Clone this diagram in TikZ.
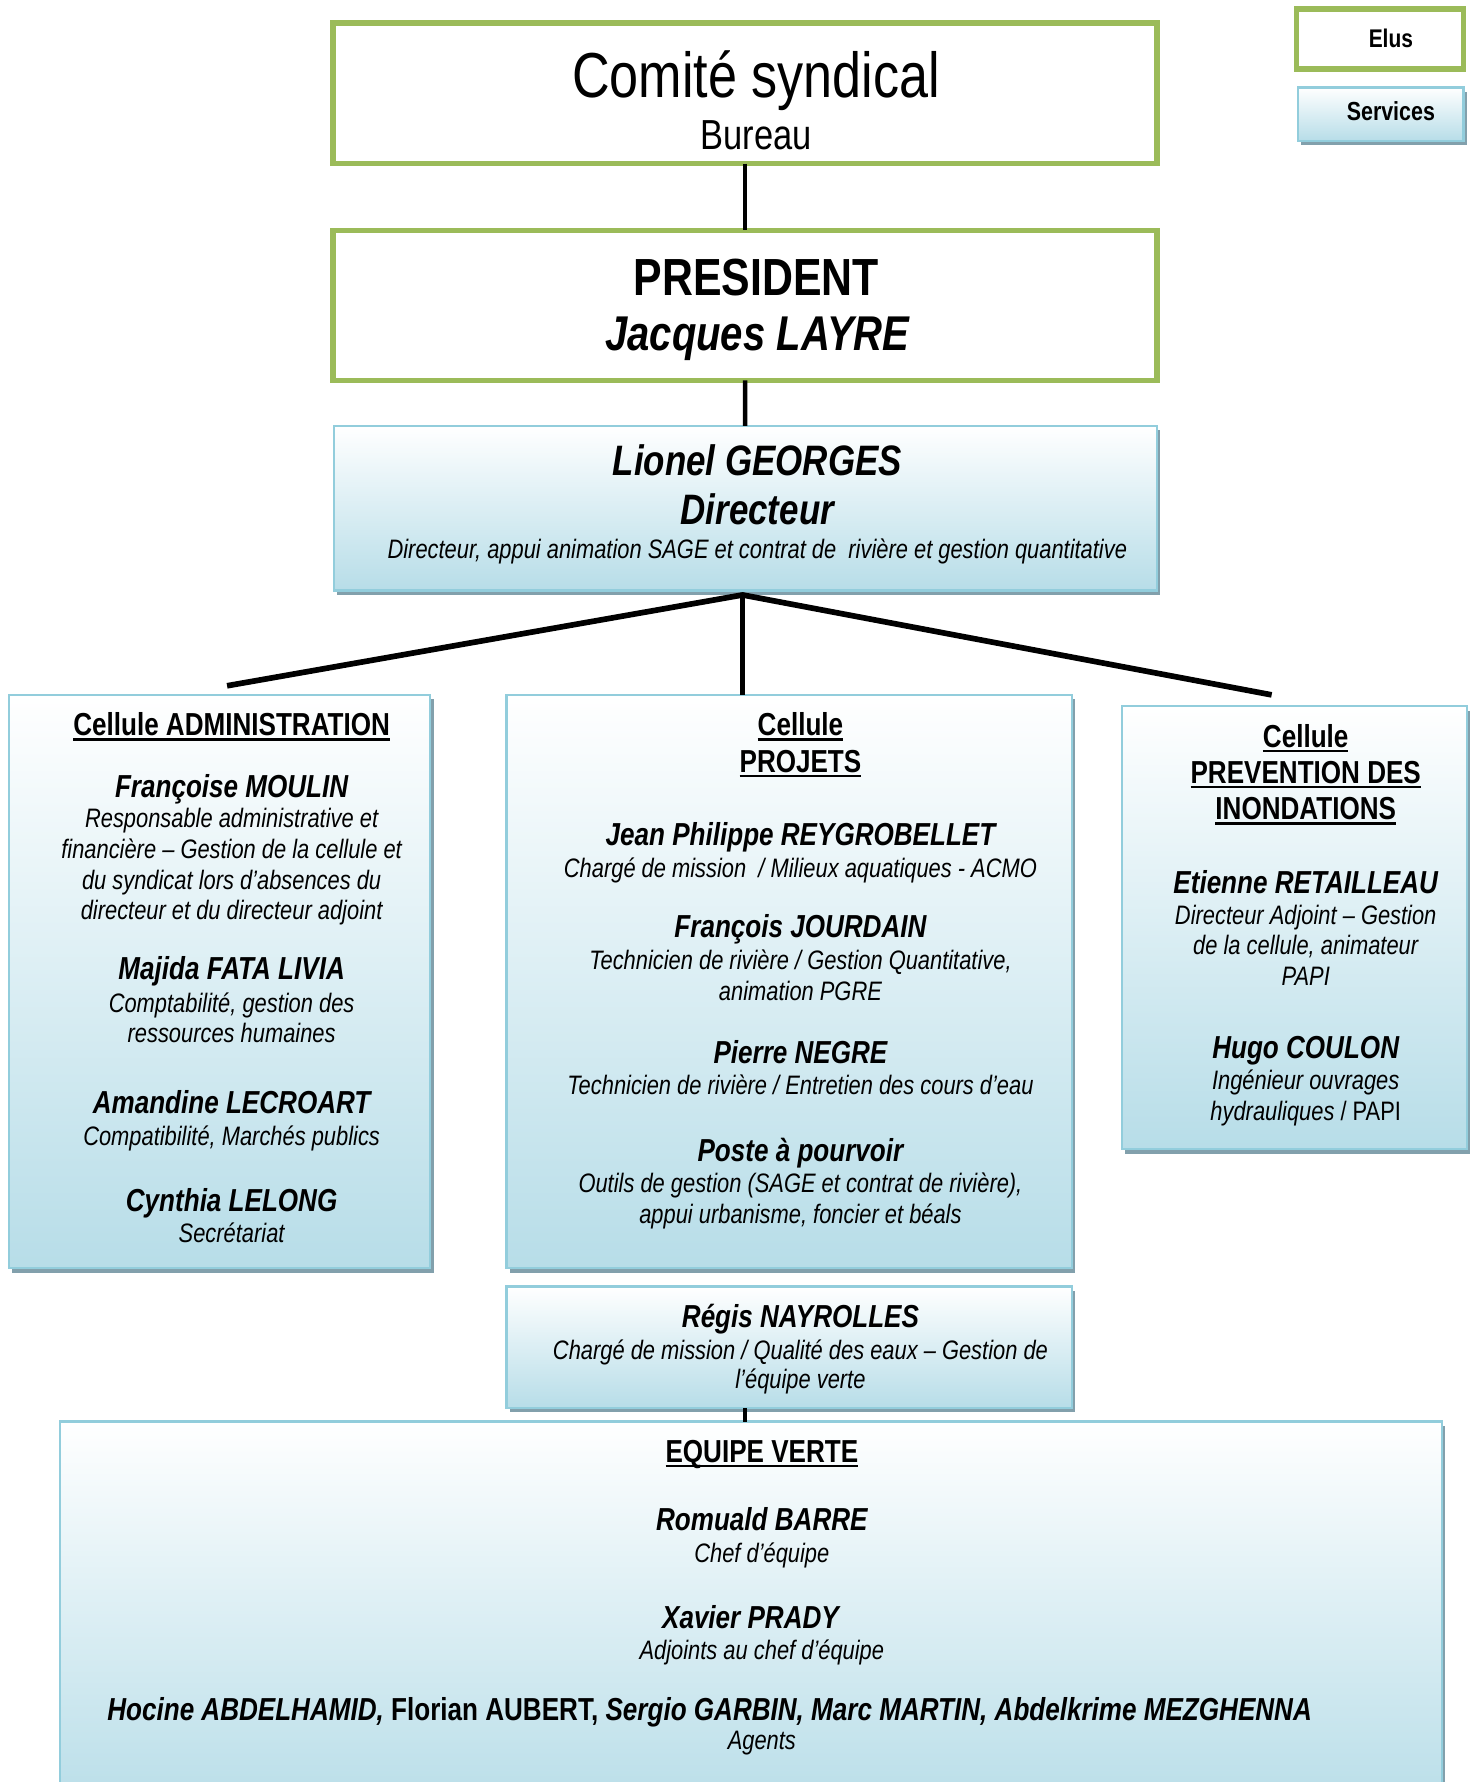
\documentclass[tikz,border=0pt]{standalone}
\usepackage{fontspec}
\setmainfont{Liberation Sans}[FakeStretch=0.82]
\usetikzlibrary{shadows}
\definecolor{elugreen}{RGB}{155,187,89}
\definecolor{svcborder}{RGB}{146,205,220}
\definecolor{svcblue}{RGB}{183,221,232}
\definecolor{shadowc}{RGB}{130,160,172}
\newcommand\fsz[1]{\fontsize{#1}{#1}\selectfont}
\newsavebox\myulbox
\newcommand\myul[1]{\sbox\myulbox{#1}\rlap{\rule[-2.2pt]{\wd\myulbox}{1pt}}\usebox\myulbox}
\newcommand\bx[6]{\node[#6, inner sep=0pt, outer sep=0pt, anchor=north west, minimum width={(#4-#2)*0.5pt}, minimum height={(#5-#3)*0.5pt}] (#1) at (#2,#3) {};}
\tikzset{
  tbase/.style={inner sep=0pt, anchor=base},
  body/.style={tbase, font=\fsz{11.75pt}\itshape},
  nm/.style={tbase, font=\fsz{14pt}\bfseries\itshape},
  hd/.style={tbase, font=\fsz{14pt}\bfseries},
  elu/.style={draw=elugreen, line width=2.5pt, fill=white},
  svc/.style={draw=svcborder, line width=1pt, top color=white, bottom color=svcblue,
    drop shadow={shadow xshift=1.5pt, shadow yshift=-2pt, fill=shadowc, opacity=1}},
  link/.style={line width=2pt, black},
  link2/.style={line width=2.5pt, black},
}
\begin{document}
\begin{tikzpicture}[x=0.5pt,y=-0.5pt]
\clip (0,0) rectangle (1300,1569.5);
\fill[white] (0,0) rectangle (1300,1569.5);

% legend
\bx{elus}{1142}{8}{1289}{61}{elu}
\node[tbase, font=\fsz{11.25pt}\bfseries] (elust) at (1225,42) {Elus};
\bx{svcs}{1143}{77}{1289}{124}{svc}
\node[tbase, font=\fsz{11.5pt}\bfseries] (svct) at (1225,106) {Services};

% comite
\bx{comite}{293}{20}{1019}{144}{elu}
\node[tbase, font=\fsz{28pt}] (ct1) at (666,86) {Comité syndical};
\node[tbase, font=\fsz{18.5pt}] (ct2) at (666,132) {Bureau};

% president
\bx{pres}{293}{203}{1019}{335}{elu}
\node[tbase, font=\fsz{23pt}\bfseries] (pt1) at (666,260) {PRESIDENT};
\node[tbase, font=\fsz{21.5pt}\bfseries\itshape] (pt2) at (667,309) {Jacques LAYRE};

% directeur
\bx{dir}{294}{375}{1019}{520}{svc}
\node[tbase, font=\fsz{18.75pt}\bfseries\itshape] (dt1) at (667,419) {Lionel GEORGES};
\node[tbase, font=\fsz{18.75pt}\bfseries\itshape] (dt2) at (667,462) {Directeur};
\node[tbase, font=\fsz{11.75pt}\itshape] (dt3) at (667,492) {Directeur, appui animation SAGE et contrat de \ rivière et gestion quantitative};

% links top
\draw[link] (comite) -- (pres);
\draw[link] (pres) -- (dir);

% admin
\bx{adm}{8}{612}{379}{1117}{svc}
\node[hd] (a0) at (204,648) {\myul{Cellule ADMINISTRATION}};
\node[nm] (a1) at (204,702) {Françoise MOULIN};
\node[body] (a2) at (204,729) {Responsable administrative et};
\node[body] (a3) at (204,756) {financière – Gestion de la cellule et};
\node[body] (a4) at (204,783) {du syndicat lors d’absences du};
\node[body] (a5) at (204,810) {directeur et du directeur adjoint};
\node[nm] (a6) at (204,863) {Majida FATA LIVIA};
\node[body] (a7) at (204,892) {Comptabilité, gestion des};
\node[body] (a8) at (204,918) {ressources humaines};
\node[nm] (a9) at (204,981) {Amandine LECROART};
\node[body] (a10) at (204,1009) {Compatibilité, Marchés publics};
\node[nm] (a11) at (204,1067) {Cynthia LELONG};
\node[body] (a12) at (204,1094) {Secrétariat};

% projets
\bx{prj}{446}{612}{944}{1117}{svc}
\node[hd] (p0) at (705,648) {\myul{Cellule}};
\node[hd] (p1) at (705,680) {\myul{PROJETS}};
\node[nm] (p2) at (705,745) {Jean Philippe REYGROBELLET};
\node[body] (p3) at (705,773) {Chargé de mission \ / Milieux aquatiques - ACMO};
\node[nm] (p4) at (705,826) {François JOURDAIN};
\node[body] (p5) at (705,854) {Technicien de rivière / Gestion Quantitative,};
\node[body] (p6) at (705,881) {animation PGRE};
\node[nm] (p7) at (705,937) {Pierre NEGRE};
\node[body] (p8) at (705,964) {Technicien de rivière / Entretien des cours d’eau};
\node[nm] (p9) at (705,1023) {Poste à pourvoir};
\node[body] (p10) at (705,1050) {Outils de gestion (SAGE et contrat de rivière),};
\node[body] (p11) at (705,1078) {appui urbanisme, foncier et béals};

% prevention
\bx{pv}{988}{622}{1292}{1012}{svc}
\node[hd] (v0) at (1150,658) {\myul{Cellule}};
\node[hd] (v1) at (1150,690) {\myul{PREVENTION DES}};
\node[hd] (v2) at (1150,722) {\myul{INONDATIONS}};
\node[nm] (v3) at (1150,787) {Etienne RETAILLEAU};
\node[body] (v4) at (1150,814) {Directeur Adjoint – Gestion};
\node[body] (v5) at (1150,841) {de la cellule, animateur};
\node[body] (v6) at (1150,868) {PAPI};
\node[nm] (v7) at (1150,932) {Hugo COULON};
\node[body] (v8) at (1150,960) {Ingénieur ouvrages};
\node[body] (v9) at (1150,987) {hydrauliques {\upshape / PAPI}};

% branches
\coordinate (hub) at (654,524);
\coordinate (admtip) at (200,604);
\coordinate (pvtip) at (1120,612);
\draw[link2] (admtip) -- (hub) -- (pvtip);
\draw[link2] (hub) -- (prj.north -| hub);

% nayrolles
\bx{nay}{446}{1133}{944}{1240}{svc}
\node[nm] (n1) at (705,1169) {Régis NAYROLLES};
\node[body] (n2) at (705,1197) {Chargé de mission / Qualité des eaux – Gestion de};
\node[body] (n3) at (705,1223) {l’équipe verte};

% equipe verte
\bx{eq}{53}{1252}{1270}{1600}{svc}
\coordinate (eqx) at (656,0);
\draw[line width=1.5pt] (nay.south -| eqx) -- (eq.north -| eqx);
\node[hd] (e0) at (671,1288) {\myul{EQUIPE VERTE}};
\node[nm] (e1) at (671,1348) {Romuald BARRE};
\node[body] (e2) at (671,1376) {Chef d’équipe};
\node[nm] (e3) at (661,1434) {Xavier PRADY};
\node[body] (e4) at (671,1462) {Adjoints au chef d’équipe};
\node[nm] (e5) at (625,1515) {Hocine ABDELHAMID, {\upshape Florian AUBERT,} Sergio GARBIN, Marc MARTIN, Abdelkrime MEZGHENNA};
\node[body] (e6) at (671,1541) {Agents};
\end{tikzpicture}
\end{document}
